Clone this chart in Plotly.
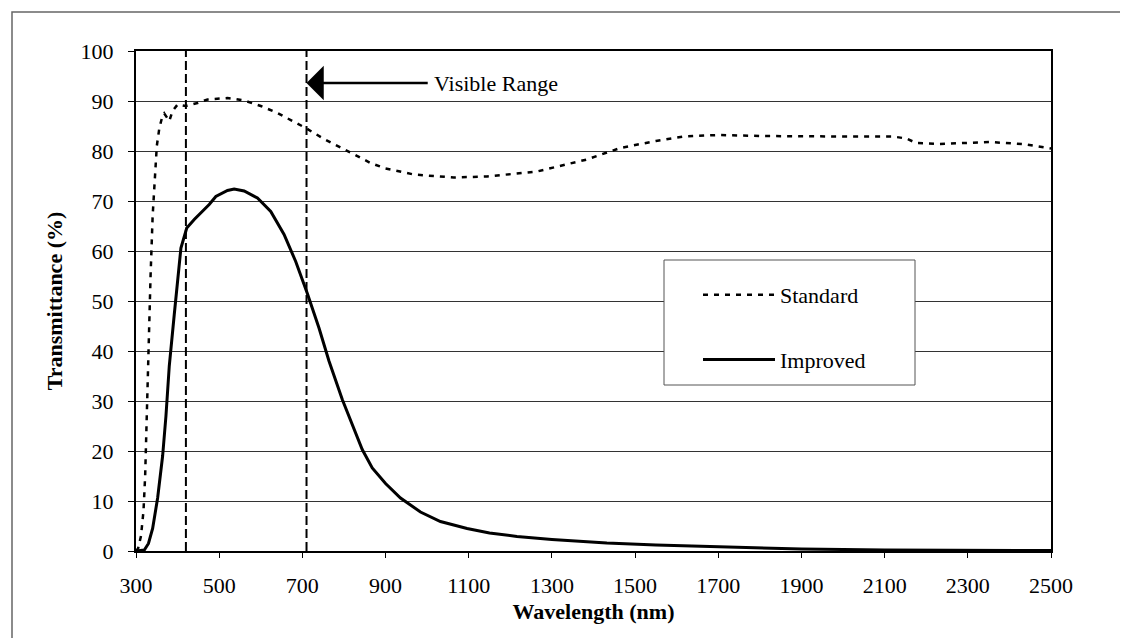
import plotly.graph_objects as go

# Data
std_wl = [300, 305, 312, 318, 322, 325, 328, 332, 335, 340, 345, 350, 356, 362, 368, 375, 380, 388,
          400, 420, 448, 472, 520, 560, 600, 640, 708, 750, 800, 864, 900, 968, 1064, 1144, 1264,
          1384, 1464, 1550, 1616, 1700, 1800, 1912, 2000, 2120, 2152, 2176, 2232, 2352, 2432, 2500]
std_t = [0, 0.5, 3, 8, 15, 25, 37, 48, 55, 67, 75, 81, 84.5, 86.5, 87.5, 86.5, 86, 88,
         89.3, 89, 89.6, 90.3, 90.6, 90.1, 89, 87.6, 84.6, 82.5, 80.3, 77.6, 76.5, 75.3, 74.7, 74.9, 75.9,
         78.3, 80.6, 82, 82.9, 83.2, 83, 82.9, 82.9, 82.9, 82.5, 81.6, 81.4, 81.8, 81.4, 80.5]

imp_wl = [300, 320, 330, 340, 352, 364, 372, 380, 392, 408, 422, 440, 476, 492, 520, 536, 560, 592,
          624, 656, 684, 712, 740, 764, 796, 844, 868, 900, 936, 984, 1032, 1096, 1150, 1216, 1300,
          1432, 1550, 1700, 1900, 2100, 2300, 2500]
imp_t = [0, 0.2, 1.5, 4.5, 10.6, 19, 27, 37, 47.3, 60.6, 64.6, 66.3, 69.3, 70.9, 72.1, 72.4, 72, 70.6,
         67.9, 63.3, 57.9, 51.5, 44.6, 38, 30.3, 20.3, 16.6, 13.5, 10.6, 7.8, 5.9, 4.5, 3.6, 2.9, 2.3,
         1.6, 1.2, 0.8, 0.4, 0.2, 0.1, 0.1]

visible_range = [420, 710]
x_ticks = list(range(300, 2501, 200))
y_ticks = list(range(0, 101, 10))

FONT = "Liberation Serif"

fig = go.Figure()
fig.add_trace(go.Scatter(x=std_wl, y=std_t, mode="lines", name="Standard",
                         line=dict(color="black", width=2.5, dash="5px,6px"),
                         legendgroup="a"))
fig.add_trace(go.Scatter(x=imp_wl, y=imp_t, mode="lines", name="Improved",
                         line=dict(color="black", width=3), legendgroup="b"))

for v in visible_range:
    fig.add_shape(type="line", xref="x", yref="y", x0=v, x1=v, y0=0, y1=100,
                  line=dict(color="black", width=2, dash="9px,4px"), layer="above")

# legend box
L, T, W, H = 128, 43, 915, 500
def px(xp):
    return (xp - L) / W
def py(yp):
    return (T + H - yp) / H

fig.add_shape(type="rect", xref="paper", yref="paper", x0=px(656), x1=px(907), y0=py(377), y1=py(252),
              line=dict(color="#555", width=1), fillcolor="white", layer="above")
# outer frame
fig.add_shape(type="rect", xref="paper", yref="paper", x0=px(4), x1=px(1124), y0=py(634), y1=py(4),
              line=dict(color="#666", width=1.5), fillcolor="rgba(0,0,0,0)", layer="above")

# arrow + text
fig.add_annotation(x=visible_range[1], y=93.6, ax=1005, ay=93.6, xref="x", yref="y",
                   axref="x", ayref="y", text="", showarrow=True, arrowhead=1,
                   arrowsize=2.3, arrowwidth=2.5, arrowcolor="black")
fig.add_annotation(x=1012, y=93.6, xref="x", yref="y", text="Visible Range", showarrow=False,
                   xanchor="left", yanchor="middle", font=dict(family=FONT, size=22, color="black"))

fig.update_layout(
    width=1128, height=638,
    margin=dict(l=L, r=1128 - L - W, t=T, b=638 - T - H),
    paper_bgcolor="white", plot_bgcolor="white",
    font=dict(family=FONT, size=22, color="black"),
    showlegend=True,
    legend=dict(x=px(690), y=py(266), xanchor="left", yanchor="top",
                bgcolor="rgba(0,0,0,0)", borderwidth=0, itemwidth=72,
                traceorder="grouped", tracegroupgap=33,
                font=dict(family=FONT, size=22, color="black")),
    xaxis=dict(range=[300, 2500], tickvals=x_ticks, ticks="outside", ticklen=5, tickcolor="black",
               showline=True, linecolor="black", linewidth=2, mirror=True, showgrid=False,
               zeroline=False, ticklabelstandoff=9,
               title=dict(text="<b>Wavelength (nm)</b>", font=dict(family=FONT, size=22), standoff=6)),
    yaxis=dict(range=[0, 100], tickvals=y_ticks, ticks="outside", ticklen=6, tickcolor="black",
               showline=True, linecolor="black", linewidth=2, mirror=True, showgrid=True,
               gridcolor="#333", gridwidth=1, zeroline=False, ticklabelstandoff=10,
               title=dict(text="<b>Transmittance (%)</b>", font=dict(family=FONT, size=22), standoff=12)),
)

fig.write_html("out.html")
